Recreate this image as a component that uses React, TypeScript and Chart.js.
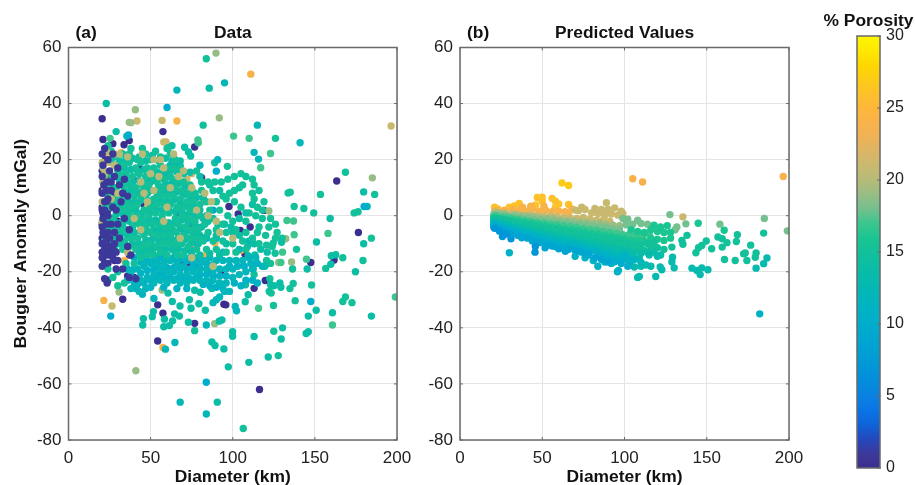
import React, { useEffect, useRef } from "react";
import { Chart, registerables } from "chart.js";

Chart.register(...registerables);

type Pt = [number, number];

const porosityColors = [
  "#3b2e8e", "#3d399b", "#2448bd", "#0f63d9", "#0a74e4", "#0a82e2", "#048cdc", "#0096d8",
  "#009fd4", "#00a6d0", "#00adcc", "#00b2c4", "#02b6ba", "#06baae", "#0bbda4", "#12c19a",
  "#1ac592", "#3cc68e", "#74c08e", "#98bd84", "#b6bb78", "#c9b96f", "#dcb565", "#efb256",
  "#f8b24a", "#feb73a", "#fdc12a", "#fdcb16", "#fed800", "#fee900", "#fff500",
];

const colorbarTicks = [0, 5, 10, 15, 20, 25, 30];

// Panel (a): dense cloud, drawn back to front
const aPurpleBack: Pt[] = [[20.5,22],[21,18],[20.5,14],[21.5,11],[20.5,8],[22,5],[20.5,2],[21,-1],[20.5,-4],[22,-7],[20.5,-10],[21.5,-13],[20.5,-15],[23,-17],[22,-22.5],[23.5,-24],[24,20],[25,16],[23.5,12],[26,9],[24,6],[27,3],[24,0],[26,-3],[24,-6],[23,-9],[25,-11],[24,-14],[26,-13],[27,-15],[28,-10],[29,-13],[30,-16],[28,-6],[30,-3],[29,2],[32,5],[31,11],[28,14],[27,22],[30,17],[33,8],[36,7],[34,-1],[37,-5],[36,-11],[37,-22],[41,-22.5],[33,-19],[38,-14],[22,-12],[25,-8],[27,-12],[21,-6],[23,-3],[22,2],[26,12],[22,24],[34,13],[31,-8],[20.5,-18],[29,-19],[23,9]];
const aTan: Pt[] = [[20.5,19],[21,17],[22,15],[21,12],[22,9],[23,23],[28,22],[26,6],[20.5,5],[20.5,-2],[28,18],[31,22],[36,21],[30,8],[45,22],[52,20],[55,14],[46,8],[48,5],[52,9],[60,3],[67,14],[75,10],[83,8],[87,5],[85,0],[90,-2],[56,20],[58,17],[62,10],[50,15],[44,12],[64,22],[70,16],[78,2],[92,-6],[100,-8],[58,-2],[44,-5],[36,-13],[40,-1],[68,-8],[75,-15],[88,-18]];
const aTealDense: Pt[] = [[24,25],[26,23],[29,21],[33,22],[37,22],[38,24],[42,20],[45,24],[47,22],[50,20],[53,23],[56,21],[60,24],[62,22],[65,20],[28,18],[33,18],[37,19],[41,17],[44,19],[48,17],[52,17],[56,18],[60,17],[64,17],[68,17],[24,15],[27,14],[31,15],[35,15],[39,14],[43,15],[47,14],[51,14],[54,12],[58,13],[62,14],[66,13],[70,12],[74,11],[78,16],[81,12],[85,12],[89,12],[93,12],[97,13],[101,14],[105,15],[108,14],[112,13],[25,11],[29,10],[33,11],[37,11],[41,10],[45,11],[49,11],[53,9],[57,10],[61,10],[65,10],[69,9],[73,8],[77,8],[81,9],[88,9],[94,7],[98,8],[104,10],[112,8],[24,7],[28,6],[32,7],[36,4],[40,7],[44,7],[48,8],[52,6],[56,7],[60,7],[64,7],[68,6],[72,5],[76,5],[80,4],[84,5],[90,5],[96,6],[101,5],[113,6],[22,3],[26,3],[31,2],[35,2],[38,3],[42,4],[46,2],[50,3],[54,4],[58,4],[62,4],[66,3],[70,3],[74,2],[80,0],[86,2],[92,2],[97,0],[105,3],[115,3],[23,-1],[27,-1],[33,-2],[37,0],[41,0],[45,-1],[49,0],[53,1],[57,0],[61,1],[65,-1],[69,0],[73,-1],[77,-2],[83,-3],[88,-1],[94,-3],[100,-2],[108,-2],[114,0],[118,-1],[23,-5],[27,-4],[31,-5],[35,-5],[39,-4],[43,-3],[47,-4],[51,-3],[55,-3],[59,-4],[63,-4],[67,-3],[71,-4],[75,-5],[79,-5],[85,-6],[90,-5],[96,-6],[102,-5],[108,-6],[116,-4],[122,-4],[22,-9],[26,-9],[30,-8],[34,-9],[38,-8],[42,-8],[46,-7],[50,-6],[54,-7],[58,-7],[62,-7],[66,-6],[70,-7],[74,-8],[78,-8],[82,-9],[88,-9],[94,-9],[100,-10],[106,-9],[112,-8],[120,-7],[126,-8],[28,-12],[33,-12],[37,-11],[41,-12],[45,-11],[49,-10],[53,-11],[57,-10],[61,-10],[65,-10],[69,-10],[73,-11],[78,-12],[84,-12],[90,-12],[96,-13],[102,-13],[108,-12],[116,-10],[124,-11],[24,-19],[30,-20],[35,-17],[40,-17],[44,-15],[48,-14],[52,-14],[56,-13],[60,-14],[66,-14],[70,-14],[27,-22],[34,-24],[30,-25]];
const aTealFill: Pt[] = [[26,20],[31,19.5],[35,20],[39,20.5],[43,21],[47,19.5],[51,21.5],[55,19.5],[59,20.5],[63,19.5],[68,19.5],[30,16],[34,17],[38,16.5],[42,16],[46,16.5],[50,16],[54,15.5],[58,15.5],[62,16],[66,15.5],[70,15],[74,15.5],[31,12.5],[35,13],[39,12],[43,12.5],[47,12],[51,12.5],[55,10.5],[59,11.5],[63,12],[67,11.5],[71,10.5],[75,9.5],[30,8],[34,9],[38,9],[42,8.5],[46,9.5],[50,9],[54,8],[58,8.5],[62,8.5],[66,8.5],[70,7.5],[74,6.5],[78,6.5],[82,6.5],[28,4],[32,3.5],[36,5.5],[40,5],[44,5.5],[48,5.5],[52,4.5],[56,5.5],[60,5],[64,5.5],[68,4.5],[72,3.5],[76,3.5],[80,2],[29,0.5],[33,0.5],[37,1.5],[41,2],[45,1],[49,1.5],[53,2.5],[57,2],[61,2.5],[65,1.5],[69,1.5],[73,0.5],[77,0],[82,-1],[29,-2.5],[33,-3.5],[37,-2],[41,-2],[45,-2.5],[49,-2],[53,-1.5],[57,-1.5],[61,-2.5],[65,-2.5],[69,-1.5],[73,-2.5],[77,-3.5],[81,-4],[85,-2],[91,-3],[28,-7.5],[32,-6.5],[36,-7],[40,-6],[44,-5.5],[48,-5.5],[52,-5],[56,-5],[60,-5.5],[64,-5.5],[68,-4.5],[72,-5.5],[76,-6.5],[80,-7],[84,-7.5],[90,-7],[31,-10],[35,-10.5],[39,-10],[43,-10],[47,-9],[51,-8.5],[55,-8.5],[59,-8.5],[63,-8.5],[67,-8],[71,-8.5],[75,-9.5],[79,-10],[43,-13],[47,-12.5],[51,-12.5],[55,-11.5],[59,-12],[63,-12],[67,-12],[71,-12.5],[75,-13],[80,-14],[86,-13.5],[92,-14],[96,-10],[100,-6],[104,-7],[109,-11],[113,-10],[117,-12],[121,-13],[95,-3],[99,-4],[104,-1],[108,1],[112,4],[92,9],[86,11],[80,14]];
const aCyanLower: Pt[] = [[38,-20],[42,-19],[46,-18],[50,-17],[54,-17],[58,-17],[62,-16],[66,-17],[70,-18],[74,-15],[78,-15],[82,-16],[86,-15],[90,-16],[94,-16],[98,-16],[102,-16],[106,-16],[110,-15],[114,-15],[40,-24],[44,-23],[48,-22],[52,-21],[56,-19],[60,-20],[64,-20],[68,-21],[72,-21],[76,-20],[80,-19],[84,-19],[88,-20],[92,-19],[96,-19],[100,-19],[104,-21],[108,-20],[112,-19],[118,-18],[38,-26],[43,-27],[47,-26],[52,-24],[56,-23],[60,-24],[64,-23],[68,-24],[72,-24],[76,-23],[80,-23],[84,-23],[88,-23],[92,-24],[96,-24],[100,-22],[45,-14],[55,-10],[65,-13],[72,-8],[60,-3],[50,-11],[84,0],[78,-10],[90,-8],[104,-12],[110,-9],[80,18],[66,19],[62,18],[94,-13],[98,-27],[92,-29],[95,-27],[88,-31],[90,-30]];
const aCyanFill: Pt[] = [[40,-15],[44,-16.5],[48,-16],[52,-15.5],[56,-15],[60,-15.5],[64,-15],[68,-15.5],[72,-16],[76,-17],[80,-17],[84,-17],[88,-17.5],[36,-19],[40,-19],[44,-20.5],[48,-19.5],[52,-19],[56,-20.5],[60,-18.5],[64,-18.5],[68,-19],[72,-19],[76,-18.5],[80,-21],[84,-21],[88,-21.5],[92,-21.5],[96,-21.5],[42,-24.5],[46,-24],[50,-23],[54,-22.5],[58,-22],[62,-22],[66,-22.5],[70,-22.5],[74,-22.5],[78,-22],[82,-24.5],[86,-25],[90,-25.5],[94,-26],[36,-23],[39,-22.5],[41,-26],[45,-28],[50,-25.5],[58,-25.5],[66,-26],[72,-26],[98,-18],[103,-18],[107,-18],[111,-17],[115,-17],[101,-24],[105,-25],[108,-23],[112,-23],[115,-24]];
const aBlueFlecks: Pt[] = [[44,-12],[62,-8],[70,-5],[78,-4],[56,-14],[66,-11],[84,-8],[52,-2],[60,14],[72,8],[68,2],[88,2],[48,-9],[58,-6],[74,-12]];
const aPurpleFront: Pt[] = [[20.5,34.6],[57.5,30],[21,27.2],[37,26.8],[33.8,25.3],[27,25.7],[76.8,24.5],[81,13.6],[39.7,12.8],[49.6,12],[52,14.3],[43,17],[163.3,12.4],[176.5,-6],[119,1.9],[97.7,3.3],[110.6,-4],[104.6,-5.3],[103.3,0.6],[67.5,1],[113,-25.9],[119.8,-23.1],[94.6,-31.6],[95.8,-31.8],[76.8,-38.4],[57.5,-34.8],[54.3,-31.8],[33,-29.8],[54.3,-44.7],[116.3,-62],[147.5,-16.7],[161.7,-15.8],[107.4,-13.7],[24,-23],[36,-21.5],[40,-22],[22,10],[25,-5],[24,14],[28,7],[31,19],[46,4],[50,-9],[50,-13],[56,-21],[68,-17],[72,-17],[77,-18],[85,-20],[93,-21],[75,-3],[22,-10],[21,-15],[26,-14],[28,-16],[24,-8],[25,-12],[23,-2],[21,1],[30,-2],[37,-14],[85,-14],[20.5,16],[20.5,9],[20.5,3],[20.5,-3],[20.5,-8],[20.5,-13],[22,-17],[22.5,20],[24,-17],[23,-11],[26,-9],[24,2],[25,5],[27,10]];

// Panel (a): scattered points by porosity
const aP10: Pt[] = [[60,38.6],[36.5,28.8],[90,15.9],[83.9,-59.4],[180,3.3],[147.5,-30.6],[25.7,-35.8]];
const aP12: Pt[] = [[95,47.4],[66,44.8],[115,32.3],[141,26],[113,22.6],[115.7,20.2],[90.8,20],[181.8,3.3],[83.9,-70.7],[68,-66.5],[59,-47.6],[64.8,-45.2],[83.9,-39],[52,-29.5],[101.5,-32.4],[102.3,-33.9],[35.5,28.4],[64,18],[68,17.8]];
const aP14: Pt[] = [[23,40],[85.7,45.5],[29,30],[63,25],[60.8,24.3],[70.7,24.4],[73,22.7],[74.4,21.3],[179.7,8.5],[179.7,-10],[151,-9.4],[159.3,-1],[90.6,-66.5],[97.3,-53.9],[109.8,-52.3],[121.6,-50.4],[87.3,-45],[89.2,-46.3],[94.6,-47.5],[99.9,-41.4],[99.9,-43],[113,-43.1],[130.3,-40],[129.5,-44],[146,-41.4],[144.7,-42],[146,-35.8],[160.7,-34.6],[184.4,-35.8],[150.8,-33.7],[45.6,-36.7],[45.2,-39],[51,-36],[51.7,-34.2],[58.4,-36.9],[58,-39.6],[61.4,-39.2],[63.4,-37.5],[64.6,-35],[67.5,-35.8],[73,-38],[91.8,-37.6],[93.4,-37.2],[67.9,-32.2],[74.6,-33],[79.4,-31.4],[83.3,-33.7],[73.6,-30],[60.6,-27.6],[63.2,-30.6],[80.2,-27.3],[76.8,-26.6],[87.3,-26],[107.6,-30.7],[109.4,-28.2],[107.8,-24.6],[129.7,-9.5],[119.6,-18],[109.4,-14.3],[113.5,-14],[128.7,-24],[129.3,-25.5],[123,-24.6],[125,-25],[145.3,-19],[159.7,-17.3],[160,-14.3],[162.7,-13.9],[174.7,-20]];
const aP15: Pt[] = [[83.9,56],[82,32.3],[126,27.6],[89,18.9],[96.7,17.6],[168.6,15.5],[186.4,7.6],[173.9,1],[176.3,1.4],[184.4,-8],[149.3,1],[153.4,7.6],[133.7,8.1],[135,8.4],[137.4,3.3],[143.3,2.6],[106.4,-75.9],[127.7,-49.9],[125,-41.2],[167,-30.6],[168.6,-29],[172.6,-31],[138,-30.3],[134.8,-26],[136.8,-24.2],[148,-24.7],[124.8,-32],[76.8,-41],[120.6,-10.5],[124.6,-9.8],[138.8,-12],[125.8,-13.4],[120.6,-16],[123,-17],[136.4,-19],[156.6,-18.8],[167,-15],[179.3,-16],[112.5,-19],[113,-21],[122.6,-22.5],[122.2,-27],[123.4,-27.6],[106,11],[113,11],[116,9],[119,5],[123,-1],[126,-3],[127,-6],[130,-8],[118,2],[110,1],[115,-6],[101,9]];
const aP17: Pt[] = [[100.5,28.4],[110,27.6],[123,22.2],[117,17.1],[158,-6.3],[133,-1.7],[137,-1.9],[137.4,-6.8],[130.3,-13],[129.3,-16.7],[160.7,-39],[199,-29],[115.7,-33],[78.8,27],[79,26],[25.3,27.6],[144.9,-15.5]];
const aP19: Pt[] = [[89.8,58],[40.7,37.8],[37,33.3],[91.8,34.9],[185,13.5],[122,1.7],[132.3,-8.2],[41,-55.3],[30.8,-27.2],[127.9,-16.7],[135.8,-16.5],[57,-26.5],[89,-38.5],[38,33.2]];
const aP21: Pt[] = [[41.7,33.8],[57,34],[26.5,-32.2],[58,26.3],[59.4,26.3],[196.4,32],[57,15],[72,13],[75,15],[22,13],[25,19],[48,3],[62,-3],[82,5],[44,-13],[52,-7]];
const aP24: Pt[] = [[111,50.5],[66,33.8],[21.5,-30.2],[57.5,-47],[23,22.5],[32,22.5],[47,9],[44.5,8.5],[89.2,-9.7],[105,-12.3],[34,-16],[47,-12],[60,-16],[75,-10],[84,-14]];

// Panel (b): bands of predicted porosity
const bP7: Pt[] = [[25.8,-7.4],[31,-8.2],[45.8,-11],[45.6,-13],[21,-4.5],[24,-5.5],[28,-6.5]];
const bP9: Pt[] = [[20.5,-4],[23,-4.6],[27,-5.4],[31,-6.4],[35,-7],[37.5,-7.9],[41,-8],[44,-9],[48,-9.6],[51.7,-11.4],[52.7,-10.6],[56,-10.8],[60,-11.8],[64,-12.7],[66,-11.8],[70,-12.4],[74,-13],[78,-14],[82,-15],[86,-15.6],[90,-16.5]];
const bF10: Pt[] = [[22,-3.8],[26,-4.4],[30,-5.4],[34,-6.2],[38,-7],[42,-7.6],[46,-8.6],[50,-9.4],[54,-10],[58,-11],[62,-11.4],[66,-12],[72,-12.6],[78,-13.2],[84,-14.4],[90,-15.4],[94,-16.4],[98,-17],[102,-18]];
const bP11: Pt[] = [[20.5,-3],[24,-3.8],[28,-4.6],[32,-5.4],[36,-6],[40,-6.8],[44,-7.4],[48,-8],[52,-8.8],[56,-9.2],[60,-10],[64,-10.4],[68,-10.6],[72,-11.2],[76,-12],[80,-12.6],[84,-13.4],[88,-14],[92,-15],[96,-15.6],[100,-15.5],[104,-16],[83.8,-18],[95.7,-20],[96.3,-19.5],[30,-13.2],[92,-17],[88,-16.5],[100,-14],[182.2,-35],[76,-15],[81,-16],[70,-14.5]];
const bF12: Pt[] = [[22,-2.8],[26,-3.4],[30,-4.2],[34,-5],[38,-5.6],[42,-6.2],[46,-7],[50,-7.6],[54,-8.2],[58,-8.8],[62,-9.4],[66,-9.8],[70,-10.2],[74,-10.8],[78,-11.4],[82,-12],[86,-12.8],[90,-13.4],[94,-14],[98,-14.4],[102,-15],[106,-15.6],[110,-16.6]];
const bP13: Pt[] = [[20.5,-2.2],[25,-3],[29,-3.6],[33,-4.2],[37,-4.8],[41,-5.4],[45,-6],[49,-6.6],[53,-7],[57,-7.8],[61,-8.2],[65,-8.6],[69,-9.2],[73,-9.8],[77,-10.2],[81,-10.8],[85,-11.4],[89,-12],[93,-12.6],[97,-13.2],[101,-13.4],[105,-14],[109,-15],[103,-17],[106,-18.3],[110,-18],[113,-17.6],[116,-18],[108,-22],[109,-21.7],[119,-21.7],[121.7,-18.3],[122.7,-19.3],[130.2,-18.6],[128.8,-16.5],[129.2,-14.8],[141,-18.7],[144,-19.5],[147,-18.6],[150.7,-19.3],[146,-21],[186.6,-15.1],[184.6,-17.1],[180,-18.7],[115,-14],[120,-14.5]];
const bF14: Pt[] = [[22,-1.8],[26,-2.4],[30,-3],[34,-3.6],[38,-4.2],[42,-4.8],[46,-5.4],[50,-5.8],[54,-6.4],[58,-7],[62,-7.4],[66,-7.8],[70,-8.2],[74,-8.8],[78,-9.2],[82,-9.6],[86,-10.2],[90,-10.8],[94,-11.4],[98,-12],[102,-12.2],[106,-12.8],[110,-13.4],[114,-13],[118,-13],[122,-14]];
const bP15: Pt[] = [[20.5,-1.4],[24,-2],[28,-2.4],[32,-3],[36,-3.4],[40,-3.8],[44,-4.6],[48,-5],[52,-5.4],[56,-6],[60,-6.4],[64,-6.8],[68,-7],[72,-7.6],[76,-8],[80,-8.4],[84,-9],[88,-9.4],[92,-10],[96,-10.6],[100,-11],[104,-11.4],[108,-12],[112,-12.4],[116,-11],[120,-11.4],[124,-12],[128.8,-11.2],[134.9,-8.8],[135.5,-10.2],[138,-7],[156.8,-7.6],[159.4,-8.2],[168.6,-6.8],[168,-9.2],[162.3,-9.6],[159.4,-11.2],[184.6,-6.2],[176.7,-10.5],[149.7,-9],[147,-10.6],[145,-11.4],[153,-11.8],[143.4,-13.2],[173.4,-13.3],[172.4,-13.6],[174.4,-16],[180,-13.3],[179.5,-14.8],[160.8,-15.6],[167.3,-16]];
const bF15: Pt[] = [[22,-1],[26,-1.4],[30,-2],[34,-2.4],[38,-2.8],[42,-3.2],[46,-3.8],[50,-4.2],[54,-4.6],[58,-5],[62,-5.4],[66,-5.8],[70,-6.2],[74,-6.6],[78,-7],[82,-7.4],[86,-7.8],[90,-8.2],[94,-8.8],[98,-9.4],[102,-9.8],[106,-10.2],[110,-10.4],[114,-10],[118,-9.6]];
const bP16: Pt[] = [[20.5,-0.6],[24,-0.9],[28,-1.3],[32,-1.6],[36,-2],[40,-2.4],[44,-2.8],[48,-3.2],[52,-3.6],[56,-4],[60,-4.4],[64,-4.8],[68,-5],[72,-5.4],[76,-5.8],[80,-6.2],[84,-6.6],[88,-7],[92,-7.4],[96,-7.8],[100,-8.2],[104,-8.6],[108,-8.8],[112,-9],[116,-8],[120,-8.4],[124,-8.8],[128,-8],[104,-5],[108,-5.6],[112,-6],[116,-5],[120,-5.6],[124,-6],[128,-6],[118,-3.4],[122,-4],[126,-3.6],[144.8,-2.7],[160.6,-5.2]];
const bF17: Pt[] = [[22,0],[27,-0.4],[31,-0.8],[35,-1.2],[39,-1.6],[43,-2],[47,-2.4],[51,-2.6],[55,-3],[59,-3.2],[63,-3.6],[67,-3.8],[71,-4.2],[75,-4.6],[79,-5],[83,-5.2],[87,-5.6],[91,-6],[95,-6.4],[99,-6.8],[103,-6.6],[107,-7],[111,-7.4],[115,-6.6]];
const bP18: Pt[] = [[20.5,0.4],[25,0],[29,-0.2],[33,-0.5],[37,-0.8],[41,-1],[45,-1.4],[49,-1.6],[53,-1.8],[57,-2.2],[61,-2.4],[65,-2.6],[69,-3],[73,-3.2],[77,-3.6],[81,-3.8],[85,-4],[89,-4.4],[93,-4.8],[97,-5],[101,-3.2],[105,-3],[110,-2.8],[114,-3],[127.6,0.4],[158,-3],[185,-1],[199,-5.4],[137.3,-2.9],[131.8,-4],[130.8,-5],[99,-1],[102,-1.2],[108,-1.6]];
const bF19: Pt[] = [[23,1],[27,0.8],[33,0.4],[37,0],[41,-0.2],[45,-0.4],[49,-0.8],[53,-1],[57,-1],[61,-1.6],[65,-1.8],[69,-2],[73,-2.2],[77,-2.4],[81,-2.8],[85,-2.8],[89,-3.2],[93,-3.4],[97,-3.6]];
const bP21: Pt[] = [[21,1.4],[26,1],[31,0.8],[35,0.5],[39,0.2],[43,0.4],[47,0],[51,-0.2],[55,0],[59,-0.4],[63,-0.6],[67,-0.8],[71,-1],[75,-0.6],[79,-1.2],[83,-1.6],[87,-1.6],[91,-2],[135.5,-0.4],[89,4.6],[72,1.8],[76,2.2],[80,1],[84,0.8],[88,0.2],[92,0.6],[96,0.2],[99,0.8],[70,2],[74,3],[82,2.6],[86,2.2],[90,2.2],[94,2.8],[98,1.6]];
const bP24: Pt[] = [[22,2],[27,2],[32,2.2],[36,1.8],[40,1.6],[44,2.2],[48,1.6],[52,2],[56,1.4],[60,1.6],[64,1.4],[68,2.4],[66,0.6],[196.5,14],[105,13.2],[111,12],[38,3],[43,3.4],[51,3.4]];
const bP26: Pt[] = [[21,3],[23,2.4],[30,3],[33,3.5],[36,4.4],[50,5.2],[47,6.5],[50,6.6],[56,6.2],[58,5.2],[60,4.2],[66,4],[46,3.8],[58,3]];
const bP27: Pt[] = [[62,11.7],[66,10.8]];

const aGroups: [number, Pt[]][] = [
  [1, aPurpleBack], [20, aTan], [15, aTealDense], [14, aTealFill], [12, aCyanLower], [11, aCyanFill], [9, aBlueFlecks], [10, aP10], [12, aP12], [14, aP14],
  [15, aP15], [17, aP17], [19, aP19], [21, aP21], [24, aP24], [0, aPurpleFront],
];
const bGroups: [number, Pt[]][] = [
  [7, bP7], [9, bP9], [10, bF10], [11, bP11], [12, bF12], [13, bP13], [14, bF14], [15, bP15], [15, bF15], [16, bP16], [17, bF17], [18, bP18], [19, bF19], [21, bP21], [24, bP24], [26, bP26], [27, bP27],
];

const FONT = "'Liberation Sans', Arial, sans-serif";
const INK = "#222222";
const FRAME = "#6a6a6a";

const frame = {
  id: "frame",
  afterDatasetsDraw(chart: any, _a: any, opts: any) {
    const { ctx, chartArea: c, scales } = chart;
    ctx.save();
    ctx.strokeStyle = FRAME;
    ctx.lineWidth = 1.5;
    ctx.strokeRect(c.left, c.top, c.right - c.left, c.bottom - c.top);
    ctx.lineWidth = 1;
    const len = 3;
    ctx.beginPath();
    if (opts.panel) {
      for (const t of scales.x.ticks) {
        const p = scales.x.getPixelForValue(t.value);
        ctx.moveTo(p, c.bottom); ctx.lineTo(p, c.bottom - len);
        ctx.moveTo(p, c.top); ctx.lineTo(p, c.top + len);
      }
      for (const t of scales.y.ticks) {
        const p = scales.y.getPixelForValue(t.value);
        ctx.moveTo(c.left, p); ctx.lineTo(c.left + len, p);
        ctx.moveTo(c.right, p); ctx.lineTo(c.right - len, p);
      }
    } else {
      for (const t of scales.y.ticks) {
        const p = scales.y.getPixelForValue(t.value);
        ctx.moveTo(c.right - len, p); ctx.lineTo(c.right + 1, p);
      }
    }
    ctx.stroke();
    ctx.fillStyle = "#111";
    ctx.font = `bold 17.4px ${FONT}`;
    ctx.textBaseline = "middle";
    if (opts.tag) {
      ctx.textAlign = "left";
      ctx.fillText(opts.tag, c.left + 7, 33);
    }
    if (opts.heading) {
      ctx.textAlign = "center";
      ctx.fillText(opts.heading, (c.left + c.right) / 2 + (opts.shift || 0), opts.headingY);
    }
    ctx.restore();
  },
};

function panelConfig(groups: [number, Pt[]][], heading: string, tag: string, yTitle: string, padLeft: number, padRight: number): any {
  return {
    type: "scatter",
    data: {
      datasets: groups.map(([p, pts]) => ({
        data: pts.map(([x, y]) => ({ x, y })),
        backgroundColor: porosityColors[p],
        borderWidth: 0,
        pointRadius: 3.7,
      })),
    },
    plugins: [frame],
    options: {
      responsive: false,
      animation: false,
      layout: { padding: { left: padLeft, right: padRight, top: 47.5, bottom: 0 } },
      plugins: {
        legend: { display: false },
        tooltip: { enabled: false },
        frame: { panel: true, tag, heading, headingY: 33 },
      },
      scales: {
        x: {
          type: "linear", min: 0, max: 200,
          afterFit: (s: any) => { s.height = 45; },
          grid: { color: "#e4e4e4", lineWidth: 1, tickLength: 0, drawTicks: false },
          border: { display: false },
          ticks: { stepSize: 50, color: INK, font: { family: FONT, size: 17 }, padding: 8, maxRotation: 0 },
          title: {
            display: true, text: "Diameter (km)", color: "#111",
            font: { family: FONT, size: 17.4, weight: "bold" }, padding: { top: 0, bottom: -3 },
          },
        },
        y: {
          type: "linear", min: -80, max: 60,
          afterFit: (s: any) => { s.width = 60; },
          grid: { color: "#e4e4e4", lineWidth: 1, tickLength: 0, drawTicks: false },
          border: { display: false },
          ticks: { stepSize: 20, color: INK, font: { family: FONT, size: 17 }, padding: 7 },
          title: {
            display: !!yTitle, text: yTitle, color: "#111",
            font: { family: FONT, size: 17.4, weight: "bold" }, padding: { top: 2, bottom: 0 },
          },
        },
      },
    },
  };
}

function colorbarConfig(): any {
  return {
    type: "bar",
    data: {
      labels: ["porosity"],
      datasets: [{
        data: [[colorbarTicks[0], colorbarTicks[colorbarTicks.length - 1]]],
        barPercentage: 1,
        categoryPercentage: 1,
        backgroundColor: (c: any) => {
          const area = c.chart.chartArea;
          if (!area) return porosityColors[15];
          const g = c.chart.ctx.createLinearGradient(0, area.bottom, 0, area.top);
          porosityColors.forEach((col, i) => g.addColorStop(i / (porosityColors.length - 1), col));
          return g;
        },
      }],
    },
    plugins: [frame],
    options: {
      responsive: false,
      animation: false,
      layout: { padding: { left: 36, right: 0, top: 36, bottom: 17 } },
      plugins: {
        legend: { display: false },
        tooltip: { enabled: false },
        frame: { panel: false, heading: "% Porosity", headingY: 21, shift: 0 },
      },
      scales: {
        x: { display: false },
        y: {
          position: "right", min: 0, max: 30,
          afterFit: (s: any) => { s.width = 35; },
          afterBuildTicks: (s: any) => { s.ticks = colorbarTicks.map((value) => ({ value })); },
          grid: { display: false, drawTicks: false },
          border: { display: false },
          ticks: { color: INK, font: { family: FONT, size: 16 }, padding: 6 },
        },
      },
    },
  };
}

const canvasStyle = (left: number): React.CSSProperties => ({
  position: "absolute", left, top: 0, display: "block", filter: "blur(0.45px)",
});

export default function App() {
  const a = useRef<HTMLCanvasElement>(null);
  const b = useRef<HTMLCanvasElement>(null);
  const c = useRef<HTMLCanvasElement>(null);
  useEffect(() => {
    const charts = [
      new Chart(a.current!, panelConfig(aGroups, "Data", "(a)", "Bouguer Anomaly (mGal)", 8.5, 23)),
      new Chart(b.current!, panelConfig(bGroups, "Predicted Values", "(b)", "", 0, 26)),
      new Chart(c.current!, colorbarConfig()),
    ];
    return () => charts.forEach((ch) => ch.destroy());
  }, []);
  return (
    <div style={{ position: "absolute", left: 0, top: 0, width: 915, height: 485, background: "#fff", overflow: "hidden" }}>
      <canvas ref={a} width={420} height={485} style={canvasStyle(0)} />
      <canvas ref={b} width={415} height={485} style={canvasStyle(400)} />
      <canvas ref={c} width={94} height={485} style={canvasStyle(821)} />
    </div>
  );
}
